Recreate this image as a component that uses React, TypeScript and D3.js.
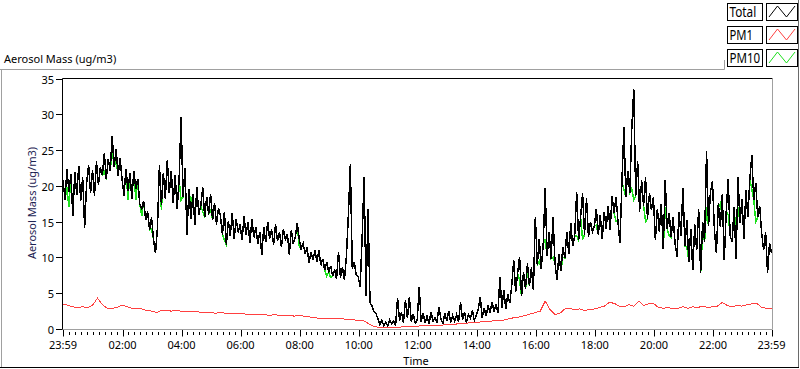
import React from "react";
import * as d3 from "d3";

// ---- data ----
const SERIES_NAMES = ["Total", "PM1", "PM10"];
const SERIES_COLORS = ["#000000", "#ff4040", "#1de01d"];
const Y_TICKS = [0, 5, 10, 15, 20, 25, 30, 35];
const X_TICK_LABELS = ["23:59", "02:00", "04:00", "06:00", "08:00", "10:00", "12:00", "14:00", "16:00", "18:00", "20:00", "22:00", "23:59"];
const START_TIME = new Date(2000, 0, 1, 23, 59);
const END_TIME = new Date(2000, 0, 2, 23, 59);
const TOTAL_STEP_MIN = 4;
const PM1_STEP_MIN = 10;
const PM10_STEP_MIN = 4;

const TOTAL = [
  20.8, 18.1, 22.3, 19.2, 21.6, 15.8, 21.9, 18.7, 22.8, 17.9,
  21.2, 14.1, 20.4, 22.9, 19.0, 22.2, 18.6, 23.4, 20.1, 22.6,
  21.5, 24.6, 20.9, 23.8, 22.1, 27.0, 22.7, 25.2, 21.4, 23.9,
  21.0, 18.6, 22.4, 19.3, 21.8, 18.2, 22.1, 19.6, 21.0, 17.5,
  16.8, 17.9, 15.2, 16.4, 13.8, 15.6, 12.5, 10.6, 14.2, 22.9,
  17.4, 21.8, 18.2, 23.6, 19.0, 22.1, 17.6, 21.5, 16.8, 20.9,
  29.6, 18.4, 22.5, 13.2, 19.6, 15.4, 18.9, 14.6, 19.8, 16.0,
  17.2, 19.8, 15.6, 18.5, 16.0, 18.9, 15.2, 17.6, 14.6, 16.9,
  15.8, 13.2, 16.4, 11.8, 15.1, 13.0, 16.2, 12.6, 15.4, 13.5,
  14.6, 12.4, 15.8, 13.1, 14.9, 12.0, 15.3, 12.8, 14.2, 11.9,
  13.5, 10.4, 14.2, 12.1, 15.0, 12.6, 13.9, 11.8, 14.6, 12.3,
  13.6, 11.4, 14.0, 12.5, 13.3, 10.4, 13.8, 11.9, 12.8, 14.8,
  12.6, 11.2, 12.0, 10.5, 11.4, 9.2, 10.8, 9.6, 11.0, 9.4,
  11.0, 8.9, 9.8, 8.2, 9.4, 7.9, 8.8, 7.4, 8.3, 7.0,
  10.8, 7.2, 8.6, 6.8, 10.1, 15.9, 23.0, 8.4, 9.3, 7.6,
  7.3, 5.9, 12.8, 21.2, 4.6, 16.7, 3.7, 3.2, 2.4, 2.2,
  1.4, 0.6, 1.2, 0.5, 1.0, 0.4, 1.3, 0.7, 1.1, 0.5,
  4.3, 1.2, 2.3, 0.9, 4.0, 1.5, 4.5, 1.0, 2.1, 0.8,
  1.3, 5.9, 1.0, 2.2, 0.9, 1.8, 0.7, 2.4, 1.1, 1.6,
  1.0, 3.1, 1.4, 0.8, 2.2, 1.2, 2.5, 0.9, 1.9, 1.1,
  2.0, 1.0, 3.8, 1.3, 2.4, 0.9, 2.0, 1.5, 2.6, 1.2,
  1.9, 2.8, 4.5, 1.6, 2.9, 1.8, 3.3, 2.2, 3.8, 2.4,
  3.4, 2.2, 7.3, 3.0, 5.4, 2.8, 4.9, 3.6, 6.0, 9.6,
  5.2, 7.8, 10.1, 4.6, 8.0, 5.6, 9.2, 6.0, 8.6, 5.4,
  15.7, 9.0, 12.6, 8.4, 11.8, 19.7, 10.2, 13.5, 9.8, 15.6,
  9.2, 6.8, 10.4, 8.1, 11.5, 9.9, 13.6, 10.5, 14.8, 11.6,
  13.0, 19.2, 12.4, 15.6, 19.0, 13.2, 18.3, 12.8, 15.0, 13.6,
  14.4, 16.8, 13.2, 15.9, 12.6, 16.4, 14.0, 17.2, 13.8, 18.6,
  16.2, 18.5, 15.0, 12.0, 20.6, 28.2, 18.4, 22.1, 19.0, 28.0,
  33.5, 18.6, 23.5, 16.4, 20.8, 17.2, 21.2, 15.4, 19.0, 16.6,
  18.4, 12.4, 16.8, 13.6, 17.5, 11.2, 20.8, 14.0, 16.2, 12.8,
  15.6, 12.0, 10.1, 16.4, 13.0, 19.7, 11.6, 15.2, 9.4, 14.0,
  8.2, 14.6, 11.0, 16.8, 7.8, 15.0, 12.2, 24.8, 14.4, 19.2,
  20.6, 13.8, 10.6, 17.6, 14.2, 18.8, 9.6, 16.4, 21.0, 13.0,
  12.2, 17.0, 9.8, 21.2, 14.8, 18.2, 12.6, 19.4, 15.6, 21.0,
  24.3, 18.0, 20.4, 15.6, 17.2, 13.4, 11.0, 13.6, 7.8, 12.0,
  10.6,
];

const PM10 = [
  20.8, 18.1, 19.8, 17.0, 21.6, 15.8, 21.9, 18.7, 22.8, 17.9,
  21.2, 14.1, 20.4, 22.9, 19.0, 22.2, 18.6, 23.4, 20.1, 22.6,
  21.5, 22.0, 20.9, 23.8, 22.1, 25.0, 22.7, 23.5, 21.4, 23.9,
  21.0, 18.6, 22.4, 18.0, 21.8, 18.2, 22.1, 18.0, 21.0, 17.5,
  15.8, 17.9, 15.2, 16.4, 13.8, 14.0, 12.5, 10.6, 14.2, 22.9,
  16.6, 21.8, 18.2, 23.6, 19.0, 22.1, 17.6, 21.5, 16.8, 20.9,
  18.0, 18.4, 22.5, 13.2, 19.6, 17.2, 18.9, 14.6, 19.8, 16.0,
  17.2, 16.4, 15.6, 18.5, 16.0, 16.8, 15.2, 17.6, 14.6, 16.9,
  15.8, 13.2, 12.4, 11.8, 15.1, 13.0, 16.2, 12.6, 15.4, 13.5,
  14.6, 12.4, 15.8, 13.1, 14.9, 12.0, 15.3, 12.8, 14.2, 11.9,
  13.5, 10.4, 14.2, 12.1, 15.0, 12.6, 13.9, 11.8, 14.6, 12.3,
  13.6, 11.4, 14.0, 12.5, 13.3, 10.4, 13.8, 11.9, 12.8, 14.8,
  11.6, 11.2, 12.0, 10.5, 11.4, 9.2, 10.8, 9.6, 11.0, 9.4,
  11.0, 8.9, 9.8, 8.2, 7.4, 7.9, 7.2, 7.4, 8.3, 7.0,
  10.8, 7.2, 8.6, 6.8, 10.1, 15.9, 23.0, 8.4, 9.3, 7.6,
  7.3, 5.9, 12.8, 21.2, 4.6, 16.7, 3.7, 3.2, 2.4, 2.2,
  1.4, 0.6, 1.2, 0.5, 1.0, 0.4, 1.3, 0.7, 1.1, 0.5,
  4.3, 1.2, 2.3, 0.9, 4.0, 1.5, 4.5, 1.0, 2.1, 0.8,
  1.3, 5.9, 1.0, 2.2, 0.9, 1.8, 0.7, 2.4, 1.1, 1.6,
  1.0, 3.1, 1.4, 0.8, 2.2, 1.2, 2.5, 0.9, 1.9, 1.1,
  2.0, 1.0, 3.8, 1.3, 2.4, 0.9, 2.0, 1.5, 2.6, 1.2,
  1.9, 2.8, 4.5, 1.6, 2.9, 1.8, 3.3, 2.2, 3.8, 2.4,
  3.4, 2.2, 7.3, 3.0, 5.4, 2.8, 4.9, 3.6, 6.0, 9.6,
  5.2, 7.8, 6.8, 4.6, 8.0, 5.6, 8.0, 6.0, 8.6, 5.4,
  15.7, 9.0, 9.5, 8.4, 11.8, 12.5, 10.2, 13.5, 9.8, 10.0,
  9.2, 6.8, 10.4, 8.1, 10.0, 9.9, 13.6, 10.5, 14.8, 11.6,
  13.0, 13.0, 12.4, 15.6, 12.5, 13.2, 18.3, 12.8, 15.0, 13.6,
  14.4, 14.5, 13.2, 15.9, 12.6, 16.4, 14.0, 17.2, 13.8, 18.6,
  16.2, 15.0, 15.0, 12.0, 20.6, 19.5, 18.4, 22.1, 19.0, 19.6,
  18.0, 18.6, 23.5, 16.4, 20.8, 17.2, 15.0, 15.4, 19.0, 16.6,
  18.4, 12.4, 16.8, 13.6, 17.5, 11.2, 17.0, 14.0, 13.0, 12.8,
  15.6, 12.0, 10.1, 16.4, 13.0, 19.7, 11.6, 11.5, 9.4, 14.0,
  8.2, 14.6, 11.0, 16.8, 7.8, 13.5, 12.2, 17.0, 14.4, 19.2,
  20.6, 13.8, 10.6, 17.6, 17.0, 18.8, 9.6, 16.4, 16.0, 13.0,
  12.2, 17.0, 13.0, 17.0, 14.8, 18.2, 12.6, 19.4, 15.6, 21.0,
  19.5, 18.0, 15.0, 15.6, 17.2, 13.4, 11.0, 13.6, 7.8, 12.0,
  10.6,
];

const PM1 = [
  3.5, 3.3, 3.1, 3.0, 3.1, 3.0, 3.3, 4.3, 3.4, 2.9,
  2.9, 3.0, 3.35, 3.1, 2.9, 2.9, 2.8, 2.6, 2.5, 2.3,
  2.6, 2.6, 2.5, 2.6, 2.5, 2.5, 2.4, 2.5, 2.3, 2.3,
  2.3, 2.2, 2.3, 2.2, 2.2, 2.1, 2.1, 2.1, 2.0, 2.1,
  2.0, 2.0, 1.9, 2.0, 1.9, 1.9, 1.9, 1.8, 1.9, 1.8,
  1.7, 1.6, 1.5, 1.5, 1.5, 1.5, 1.4, 1.4, 1.3, 1.3,
  1.2, 1.2, 0.8, 0.4, 0.25, 0.2, 0.2, 0.15, 0.2, 0.3,
  0.3, 0.35, 0.4, 0.45, 0.5, 0.5, 0.5, 0.55, 0.6, 0.6,
  0.7, 0.7, 0.8, 0.9, 0.9, 1.0, 1.0, 1.1, 1.2, 1.2,
  1.3, 1.5, 1.6, 1.7, 1.9, 2.1, 2.3, 2.5, 3.9, 2.7,
  2.0, 2.2, 2.8, 2.9, 2.7, 2.8, 2.6, 2.7, 2.8, 3.0,
  3.2, 3.7, 3.6, 3.2, 3.1, 3.4, 3.2, 3.9, 3.3, 3.5,
  3.6, 3.0, 2.9, 3.0, 2.8, 2.9, 3.1, 2.9, 3.1, 3.0,
  3.2, 3.0, 3.1, 3.2, 3.7, 3.3, 3.1, 3.3, 3.2, 3.4,
  3.5, 3.6, 3.0, 2.9, 2.8,
];

const FONT = "'Noto Sans', 'Open Sans', sans-serif";

function toPoints(values: number[], stepMin: number) {
  return values.map((v, i) => ({ t: d3.timeMinute.offset(START_TIME, i * stepMin), v }));
}

function tickTime(label: string, idx: number) {
  const [h, m] = label.split(":").map(Number);
  return idx === 0 ? new Date(2000, 0, 1, h, m) : new Date(2000, 0, 2, h, m);
}

export default function App() {
  const W = 800, H = 369;
  const plot = { left: 62.5, right: 772.5, top: 78.5, bottom: 329.5 };
  const x = d3.scaleTime().domain([START_TIME, END_TIME]).range([63, 771.5]);
  const y = d3.scaleLinear().domain([0, 35]).range([329, 78.5]);

  const line = d3
    .line<{ t: Date; v: number }>()
    .x((d) => x(d.t))
    .y((d) => y(d.v));

  const seriesData = [toPoints(TOTAL, TOTAL_STEP_MIN), toPoints(PM1, PM1_STEP_MIN), toPoints(PM10, PM10_STEP_MIN)];

  const majorTimes = X_TICK_LABELS.map((l, i) => tickTime(l, i));
  const minorTimes = d3.timeMinute
    .every(12)!
    .range(new Date(2000, 0, 2, 0, 0), END_TIME)
    .filter((t) => !(t.getMinutes() === 0 && t.getHours() % 2 === 0));

  const legendTops = [3, 26, 49];
  const legendTextLen = [26.7, 23.5, 30.7];

  return (
    <svg
      width={W}
      height={H}
      style={{ position: "fixed", left: 0, top: 0, background: "#fff" }}
      fontFamily={FONT}
    >
      <rect x={0} y={0} width={W} height={H} fill="#fff" />
      {/* outer panel */}
      <line x1={0} x2={724.5} y1={69.5} y2={69.5} stroke="#a0a0a0" />
      <line x1={724.5} x2={724.5} y1={60} y2={69.5} stroke="#a0a0a0" />
      <line x1={1.5} x2={1.5} y1={69.5} y2={367.5} stroke="#a0a0a0" />
      <line x1={798.5} x2={798.5} y1={0} y2={368} stroke="#6a6a6a" />
      <line x1={0} x2={799} y1={367.5} y2={367.5} stroke="#000" />

      {/* title */}
      <text x={4} y={62.5} fontSize={11} fill="#000">Aerosol Mass (ug/m3)</text>

      {/* plot frame */}
      <line x1={plot.left} x2={plot.right} y1={plot.top} y2={plot.top} stroke="#000" />
      <line x1={plot.left} x2={plot.left} y1={plot.top} y2={plot.bottom + 0.5} stroke="#000" />
      <line x1={plot.right} x2={plot.right} y1={plot.top} y2={plot.bottom} stroke="#a0a0a0" />
      <line x1={plot.left} x2={plot.right} y1={plot.bottom} y2={plot.bottom} stroke="#a0a0a0" />

      <defs>
        <clipPath id="plotclip">
          <rect x={63} y={79} width={709} height={250.5} />
        </clipPath>
      </defs>

      {/* series: PM10 under Total, PM1 */}
      <g clipPath="url(#plotclip)" fill="none" shapeRendering="crispEdges">
        <path d={line(seriesData[2]) || ""} stroke={SERIES_COLORS[2]} strokeWidth={1.5} />
        <path d={line(seriesData[0]) || ""} stroke={SERIES_COLORS[0]} strokeWidth={1.5} />
        <path d={line(seriesData[1]) || ""} stroke={SERIES_COLORS[1]} strokeWidth={1} />
      </g>

      {/* y axis */}
      {Y_TICKS.map((v) => (
        <g key={v}>
          <line x1={56} x2={62} y1={Math.round(y(v)) + 0.5} y2={Math.round(y(v)) + 0.5} stroke="#000" />
          <text x={54} y={Math.round(y(v)) + 0.5} fontSize={11} textAnchor="end" dominantBaseline="central" fill="#000">
            {v}
          </text>
        </g>
      ))}
      <text
        transform={`translate(36,203) rotate(-90)`}
        fontSize={11}
        textAnchor="middle"
        fill="#1c2252"
      >
        Aerosol Mass (ug/m3)
      </text>

      {/* x axis */}
      {minorTimes.map((t, i) => (
        <line key={"m" + i} x1={Math.round(x(t)) + 0.5} x2={Math.round(x(t)) + 0.5} y1={332} y2={335} stroke="#000" />
      ))}
      {majorTimes.map((t, i) => (
        <g key={"M" + i}>
          <line x1={Math.round(x(t)) + 0.5} x2={Math.round(x(t)) + 0.5} y1={330} y2={336.5} stroke="#000" />
          <text x={x(t)} y={349} fontSize={11} textAnchor="middle" fill="#000">
            {X_TICK_LABELS[i]}
          </text>
        </g>
      ))}
      <text x={416} y={365} fontSize={11} textAnchor="middle" fill="#000">Time</text>

      {/* legend */}
      {SERIES_NAMES.map((name, i) => {
        const top = legendTops[i];
        const icon = d3.line<[number, number]>()([
          [769, top + 14],
          [777.5, top + 3],
          [786.5, top + 14],
          [795, top + 3],
        ]);
        return (
          <g key={name}>
            <rect x={727.5} y={top + 0.5} width={35} height={17} fill="#fff" stroke="#000" />
            <text
              x={729.5}
              y={top + 14}
              fontSize={14}
              fill="#000"
              textLength={legendTextLen[i]}
              lengthAdjust="spacingAndGlyphs"
            >
              {name}
            </text>
            <rect x={766.5} y={top + 0.5} width={31} height={17} fill="#fff" stroke="#000" />
            <path d={icon || ""} fill="none" stroke={SERIES_COLORS[i]} strokeWidth={1} />
          </g>
        );
      })}
    </svg>
  );
}
